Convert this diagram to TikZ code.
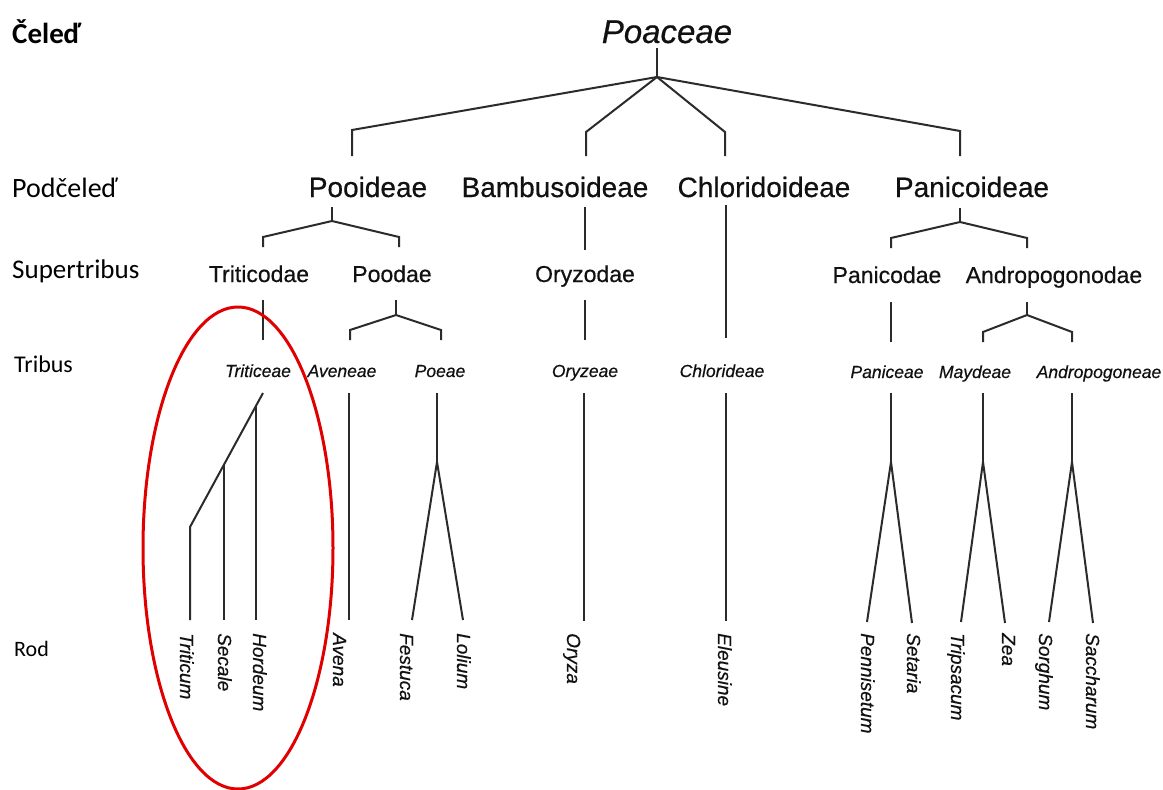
\documentclass[tikz,border=0pt]{standalone}
\usepackage{fontspec}
\setmainfont{Liberation Sans}[FakeBold=0.5]
\newfontfamily\labfont{Carlito}
\definecolor{linecol}{HTML}{2B2B2B}
\definecolor{txtcol}{HTML}{111111}
\definecolor{ovalred}{HTML}{E00000}
\tikzset{
  edge/.style={draw=linecol, line width=2pt, line join=miter},
  lvl/.style={inner sep=0pt, anchor=base west, text=black, font=\labfont\fontsize{#1}{#1}\selectfont},
  fam/.style={inner sep=0pt, anchor=base, text=txtcol, font=\itshape\fontsize{33}{33}\selectfont},
  subfam/.style={inner sep=0pt, anchor=base, text=txtcol, font=\fontsize{28}{28}\selectfont},
  supert/.style={inner sep=0pt, anchor=base, text=txtcol, font=\fontsize{23}{23}\selectfont},
  tribe/.style={inner sep=0pt, anchor=base, text=txtcol, font=\itshape\fontsize{17.5}{17.5}\selectfont},
  genus/.style={inner sep=0pt, anchor=base west, rotate=-90, text=txtcol, font=\itshape\fontsize{19}{19}\selectfont},
}
\begin{document}
\begin{tikzpicture}[x=1pt, y=-1pt]
\useasboundingbox (0,0) rectangle (1163,790);
\fill[white] (0,0) rectangle (1163,790);

% level labels
\node[lvl=29, font=\labfont\bfseries\fontsize{29}{29}\selectfont] (lc) at (12,43) {Čeleď};
\node[lvl=28] (lp) at (12,197) {Podčeleď};
\node[lvl=27] (ls) at (12,278) {Supertribus};
\node[lvl=24] (lt) at (14,372) {Tribus};
\node[lvl=22] (lr) at (14,656) {Rod};

% family
\node[fam] (poaceae) at (667,43) {Poaceae};

% subfamilies
\node[subfam] (pooideae) at (368,197) {Pooideae};
\node[subfam] (bambus) at (555,197) {Bambusoideae};
\node[subfam] (chlorid) at (764,197) {Chloridoideae};
\node[subfam] (panicoid) at (972,197) {Panicoideae};

% supertribes
\node[supert] (triticodae) at (259,282) {Triticodae};
\node[supert] (poodae) at (392,282) {Poodae};
\node[supert] (oryzodae) at (585,282) {Oryzodae};
\node[supert] (panicodae) at (887,283) {Panicodae};
\node[supert] (andropodae) at (1054,283) {Andropogonodae};

% tribes
\node[tribe] (triticeae) at (258,377) {Triticeae};
\node[tribe] (aveneae) at (342,377) {Aveneae};
\node[tribe] (poeae) at (440,377) {Poeae};
\node[tribe] (oryzeae) at (585,377) {Oryzeae};
\node[tribe] (chlorideae) at (722,377) {Chlorideae};
\node[tribe] (paniceae) at (887,378) {Paniceae};
\node[tribe] (maydeae) at (975,378) {Maydeae};
\node[tribe] (andropeae) at (1099,378) {Andropogoneae};

% genera
\node[genus] (triticum) at (180,633) {Triticum};
\node[genus] (secale) at (218,633) {Secale};
\node[genus] (hordeum) at (253,633) {Hordeum};
\node[genus] (avena) at (333,633) {Avena};
\node[genus] (festuca) at (400,633) {Festuca};
\node[genus] (lolium) at (457,633) {Lolium};
\node[genus] (oryza) at (567,633) {Oryza};
\node[genus] (eleusine) at (718,633) {Eleusine};
\node[genus] (pennisetum) at (861,633) {Pennisetum};
\node[genus] (setaria) at (907,633) {Setaria};
\node[genus] (tripsacum) at (951,633) {Tripsacum};
\node[genus] (zea) at (1002,633) {Zea};
\node[genus] (sorghum) at (1039,633) {Sorghum};
\node[genus] (saccharum) at (1086,633) {Saccharum};

% junction coordinates
\coordinate (f0) at (657,48);
\coordinate (j0) at (657,77);
\coordinate (cPo) at (352,130); \coordinate (ePo) at (352,156);
\coordinate (cBa) at (586,132); \coordinate (eBa) at (586,156);
\coordinate (cCh) at (725,132); \coordinate (eCh) at (725,156);
\coordinate (cPa) at (960,131); \coordinate (ePa) at (960,156);

\coordinate (sPo) at (332,207); \coordinate (j1) at (332,221);
\coordinate (cTd) at (263,237); \coordinate (eTd) at (263,247);
\coordinate (cPd) at (399,237); \coordinate (ePd) at (399,247);
\coordinate (sBa) at (585,207); \coordinate (eOd) at (585,250);
\coordinate (sCh) at (726,205); \coordinate (eCl) at (726,338);
\coordinate (sPa) at (960,208); \coordinate (j2) at (960,222);
\coordinate (cPn) at (891,238); \coordinate (ePn) at (891,248);
\coordinate (cAn) at (1027,238); \coordinate (eAn) at (1027,248);

\coordinate (sTd) at (263,300); \coordinate (eTe) at (263,340);
\coordinate (sPd) at (396,300); \coordinate (j3) at (396,315);
\coordinate (cAv) at (350,330); \coordinate (eAv) at (350,340);
\coordinate (cPe) at (441,330); \coordinate (ePe) at (441,340);
\coordinate (sOd) at (585,300); \coordinate (eOz) at (585,340);
\coordinate (sPn) at (891,302); \coordinate (ePc) at (891,342);
\coordinate (sAn) at (1027,302); \coordinate (j4) at (1027,315);
\coordinate (cMa) at (983,332); \coordinate (eMa) at (983,342);
\coordinate (cAp) at (1072,332); \coordinate (eAp) at (1072,342);

% tribe -> genus
\coordinate (tTe) at (263,393); \coordinate (kTr) at (190,527);
\coordinate (kHo) at (256,406); \coordinate (kSe) at (224,465);
\coordinate (gTr) at (190,620); \coordinate (gSe) at (224,620); \coordinate (gHo) at (256,620);
\coordinate (tAv) at (349,393); \coordinate (gAv) at (349,620);
\coordinate (tPe) at (437,393); \coordinate (j5) at (437,462);
\coordinate (gFe) at (412,620); \coordinate (gLo) at (463,620);
\coordinate (tOz) at (584,393); \coordinate (gOz) at (584,621);
\coordinate (tCl) at (726,393); \coordinate (gEl) at (726,621);
\coordinate (tPc) at (891,393); \coordinate (j6) at (891,462);
\coordinate (gPe) at (867,622); \coordinate (gSt) at (912,623);
\coordinate (tMa) at (983,393); \coordinate (j7) at (983,462);
\coordinate (gTp) at (961,622); \coordinate (gZe) at (1005,623);
\coordinate (tAp) at (1072,393); \coordinate (j8) at (1072,462);
\coordinate (gSo) at (1049,622); \coordinate (gSa) at (1093,623);

% edges
\draw[edge] (f0) -- (j0);
\draw[edge] (j0) -- (cPo) -- (ePo);
\draw[edge] (j0) -- (cBa) -- (eBa);
\draw[edge] (j0) -- (cCh) -- (eCh);
\draw[edge] (j0) -- (cPa) -- (ePa);

\draw[edge] (sPo) -- (j1);
\draw[edge] (j1) -- (cTd) -- (eTd);
\draw[edge] (j1) -- (cPd) -- (ePd);
\draw[edge] (sBa) -- (eOd);
\draw[edge] (sCh) -- (eCl);
\draw[edge] (sPa) -- (j2);
\draw[edge] (j2) -- (cPn) -- (ePn);
\draw[edge] (j2) -- (cAn) -- (eAn);

\draw[edge] (sTd) -- (eTe);
\draw[edge] (sPd) -- (j3);
\draw[edge] (j3) -- (cAv) -- (eAv);
\draw[edge] (j3) -- (cPe) -- (ePe);
\draw[edge] (sOd) -- (eOz);
\draw[edge] (sPn) -- (ePc);
\draw[edge] (sAn) -- (j4);
\draw[edge] (j4) -- (cMa) -- (eMa);
\draw[edge] (j4) -- (cAp) -- (eAp);

\draw[edge] (tTe) -- (kTr) -- (gTr);
\draw[edge] (kSe) -- (gSe);
\draw[edge] (kHo) -- (gHo);
\draw[edge] (tAv) -- (gAv);
\draw[edge] (tPe) -- (j5);
\draw[edge] (j5) -- (gFe);
\draw[edge] (j5) -- (gLo);
\draw[edge] (tOz) -- (gOz);
\draw[edge] (tCl) -- (gEl);
\draw[edge] (tPc) -- (j6);
\draw[edge] (j6) -- (gPe);
\draw[edge] (j6) -- (gSt);
\draw[edge] (tMa) -- (j7);
\draw[edge] (j7) -- (gTp);
\draw[edge] (j7) -- (gZe);
\draw[edge] (tAp) -- (j8);
\draw[edge] (j8) -- (gSo);
\draw[edge] (j8) -- (gSa);

% red oval
\draw[draw=ovalred, line width=3pt] (238,548) ellipse [x radius=95, y radius=241];
\end{tikzpicture}
\end{document}
